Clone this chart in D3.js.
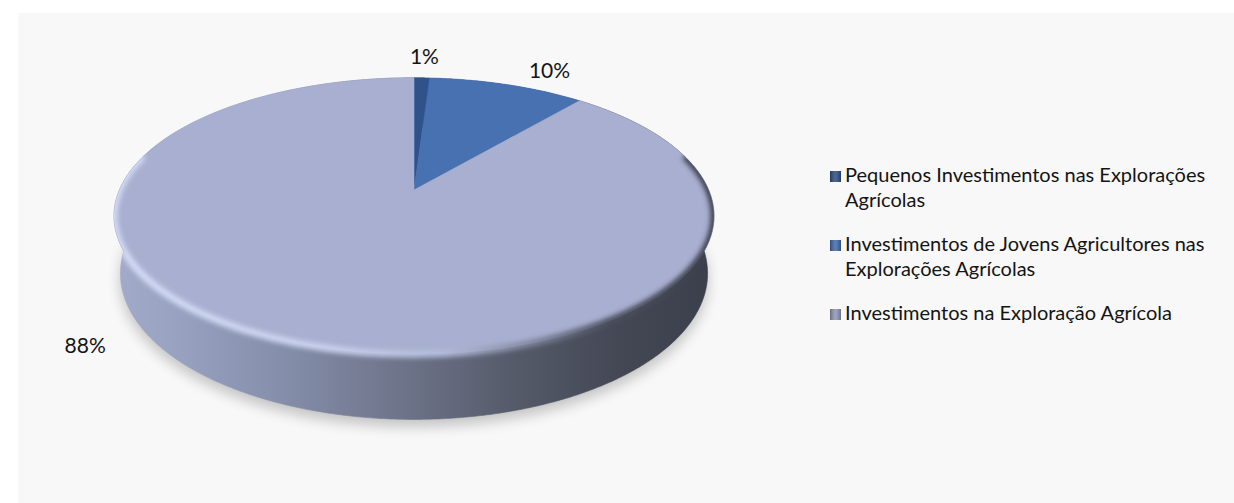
<!DOCTYPE html>
<html>
<head>
<meta charset="utf-8">
<script src="https://cdn.jsdelivr.net/npm/d3@7"></script>
<style>
  html, body { margin: 0; padding: 0; background: #ffffff; }
  svg { display: block; }
  text { font-family: Lato, "Open Sans", sans-serif; fill: #141414; }
</style>
</head>
<body>
<svg id="chart" width="1234" height="503"></svg>
<script>
// ---- data -------------------------------------------------------------
const categories = [
  "Pequenos Investimentos nas Explorações Agrícolas",
  "Investimentos de Jovens Agricultores nas Explorações Agrícolas",
  "Investimentos na Exploração Agrícola"
];
const shares = [1, 10, 88];          // percent of total
const percentLabels = shares.map(v => v + "%");

// ---- styling ----------------------------------------------------------
const topColor = d3.scaleOrdinal().domain(categories).range(["#30528a", "#4771b0", "#a8afd0"]);
const keyColor = d3.scaleOrdinal().domain(categories).range(["#2c4c80", "#3f68a8", "#8c95b3"]);

// ---- 3D projection of a flat disc seen from above at an angle ----------
const view = {
  cx: 414, cy: 190,      // where the disc centre lands on screen
  f: 1398,               // focal scale
  D: 4.745,              // camera distance (disc radius = 1)
  tilt: 26.9 * Math.PI / 180,
  depth: 0.22            // thickness of the disc (disc radius = 1)
};
const sinT = Math.sin(view.tilt), cosT = Math.cos(view.tilt);

// angle: clockwise from the far side; r: radius (1 = rim); h: distance below the top face
function project(angle, r, h) {
  const X = r * Math.sin(angle), Z = -r * Math.cos(angle);
  const v = Z * sinT + h * cosT;
  const d = view.D - Z * cosT + h * sinT;
  return [view.cx + view.f * X / d, view.cy + view.f * v / d];
}
function rimPoints(a0, a1, h) {
  const step = Math.PI / 360;
  const n = Math.max(2, Math.ceil((a1 - a0) / step));
  return d3.range(n + 1).map(i => project(a0 + (a1 - a0) * i / n, 1, h));
}
const line = d3.line();

const svg = d3.select("#chart");
const W = 1234, H = 503;

// chart area panel
svg.append("rect").attr("x", 18).attr("y", 13).attr("width", W - 18).attr("height", H - 13)
  .attr("fill", "#f8f8f8");

const defs = svg.append("defs");

const wallGrad = defs.append("linearGradient").attr("id", "wallGrad")
  .attr("gradientUnits", "userSpaceOnUse").attr("x1", 114).attr("x2", 714).attr("y1", 0).attr("y2", 0);
[[0, "#a3abca"], [0.12, "#96a0bf"], [0.3, "#838ca7"], [0.5, "#6b7186"], [0.68, "#545968"],
 [0.84, "#444855"], [1, "#3b3f4b"]].forEach(([o, c]) =>
  wallGrad.append("stop").attr("offset", o).attr("stop-color", c));

const rimGrad = defs.append("linearGradient").attr("id", "rimGrad")
  .attr("gradientUnits", "userSpaceOnUse").attr("x1", 114).attr("x2", 714).attr("y1", 0).attr("y2", 0);
[[0, "#d4dcf6"], [0.35, "#cbd3f0"], [0.55, "#b3bbda"], [0.7, "#7d8399"], [0.82, "#4d5160"], [1, "#3b3f4b"]]
  .forEach(([o, c]) => rimGrad.append("stop").attr("offset", o).attr("stop-color", c));

const keyGrad = defs.append("linearGradient").attr("id", "keyGrad")
  .attr("x1", 0).attr("x2", 1).attr("y1", 0).attr("y2", 0);
keyGrad.append("stop").attr("offset", 0).attr("stop-color", "#000").attr("stop-opacity", 0.3);
keyGrad.append("stop").attr("offset", 0.5).attr("stop-color", "#fff").attr("stop-opacity", 0.15);
keyGrad.append("stop").attr("offset", 1).attr("stop-color", "#000").attr("stop-opacity", 0.25);

defs.append("filter").attr("id", "soft").attr("x", "-10%").attr("y", "-10%").attr("width", "120%").attr("height", "120%")
  .append("feGaussianBlur").attr("stdDeviation", 2.4);
defs.append("filter").attr("id", "shadowBlur").attr("x", "-20%").attr("y", "-20%").attr("width", "140%").attr("height", "140%")
  .append("feGaussianBlur").attr("stdDeviation", 7);

// ---- pie --------------------------------------------------------------
const arcs = d3.pie().sort(null).value(d => d)(shares);
const TAU = 2 * Math.PI;

const bottomRim = rimPoints(0, TAU, view.depth);
const topRim = rimPoints(0, TAU, 0);

// silhouette of the whole disc, used to keep the edge shading inside it
const wallAll = rimPoints(0, TAU, 0).concat(rimPoints(0, TAU, view.depth).reverse());
defs.append("clipPath").attr("id", "discClip")
  .call(c => {
    c.append("path").attr("d", line(topRim) + "Z");
    c.append("path").attr("d", line(bottomRim) + "Z");
    c.append("path").attr("d", line(wallAll) + "Z");
  });

const pieG = svg.append("g");

// soft shadow under the disc
pieG.append("path")
  .attr("d", line(bottomRim) + "Z")
  .attr("transform", "translate(0,7)")
  .attr("fill", "#000").attr("opacity", 0.22)
  .attr("filter", "url(#shadowBlur)");

// outer walls
pieG.selectAll("path.wall").data(arcs).join("path")
  .attr("class", "wall")
  .attr("d", a => line(rimPoints(a.startAngle, a.endAngle, 0)
                  .concat(rimPoints(a.startAngle, a.endAngle, view.depth).reverse())) + "Z")
  .attr("fill", (a, i) => i === arcs.length - 1 ? "url(#wallGrad)" : d3.color(topColor(categories[i])).darker(1.2))
  .attr("stroke", (a, i) => i === arcs.length - 1 ? "url(#wallGrad)" : "none")
  .attr("stroke-width", 0.6);

// top faces
pieG.selectAll("path.top").data(arcs).join("path")
  .attr("class", "top")
  .attr("d", a => line([project(0, 0, 0)].concat(rimPoints(a.startAngle, a.endAngle, 0))) + "Z")
  .attr("fill", (a, i) => topColor(categories[i]))
  .attr("stroke", (a, i) => topColor(categories[i]))
  .attr("stroke-width", 0.6);

// rounded edge: light on the lit side, dark on the shaded side
pieG.append("g").attr("clip-path", "url(#discClip)")
  .append("path")
  .attr("d", line(rimPoints(Math.PI * 0.42, Math.PI * 1.58, 0)))
  .attr("fill", "none")
  .attr("stroke", "url(#rimGrad)")
  .attr("stroke-width", 7)
  .attr("stroke-linecap", "round")
  .attr("filter", "url(#soft)");

// ---- percentage labels -------------------------------------------------
const labelPlacement = [
  { angle: 2, r: 1.25 },
  { angle: 27, r: 1.22 },
  { angle: 224, r: 1.32 }
];
svg.append("g").selectAll("text").data(arcs).join("text")
  .attr("x", (a, i) => project(labelPlacement[i].angle * Math.PI / 180, labelPlacement[i].r, 0)[0])
  .attr("y", (a, i) => project(labelPlacement[i].angle * Math.PI / 180, labelPlacement[i].r, 0)[1])
  .attr("text-anchor", "middle")
  .attr("dominant-baseline", "central")
  .style("font-size", "21px")
  .text((a, i) => percentLabels[i]);

// ---- legend -----------------------------------------------------------
const legend = {
  keyX: 830, textX: 845, firstBaseline: 182, lineHeight: 25, itemGap: 44,
  maxWidth: 392, fontSize: 20, keySize: 11
};
const legendG = svg.append("g").style("font-size", legend.fontSize + "px");

function wrap(label) {
  const probe = legendG.append("text");
  const words = label.split(" ");
  const lines = [];
  let cur = [];
  words.forEach(w => {
    const test = cur.concat(w).join(" ");
    probe.text(test);
    if (cur.length && probe.node().getComputedTextLength() > legend.maxWidth) {
      lines.push(cur.join(" "));
      cur = [w];
    } else {
      cur.push(w);
    }
  });
  if (cur.length) lines.push(cur.join(" "));
  probe.remove();
  return lines;
}

let baseline = legend.firstBaseline;
categories.forEach((cat, i) => {
  const lines = wrap(cat);
  const item = legendG.append("g");
  item.append("rect")
    .attr("x", legend.keyX).attr("y", baseline - legend.keySize)
    .attr("width", legend.keySize).attr("height", legend.keySize)
    .attr("fill", keyColor(cat));
  item.append("rect")
    .attr("x", legend.keyX).attr("y", baseline - legend.keySize)
    .attr("width", legend.keySize).attr("height", legend.keySize)
    .attr("fill", "url(#keyGrad)");
  const t = item.append("text").attr("x", legend.textX).attr("y", baseline);
  lines.forEach((ln, j) => {
    t.append("tspan").attr("x", legend.textX).attr("y", baseline + j * legend.lineHeight).text(ln);
  });
  baseline += (lines.length - 1) * legend.lineHeight + legend.itemGap;
});
</script>
</body>
</html>
